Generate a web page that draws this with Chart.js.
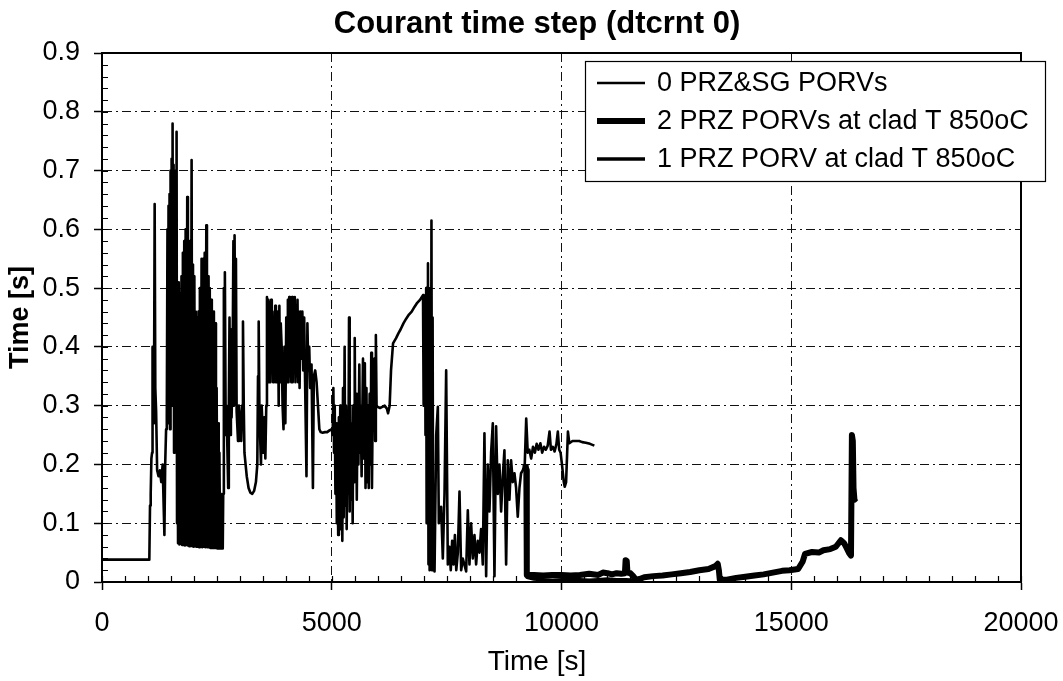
<!DOCTYPE html>
<html>
<head>
<meta charset="utf-8">
<title>Courant time step (dtcrnt 0)</title>
<script src="https://cdn.jsdelivr.net/npm/chart.js@4.4.0/dist/chart.umd.min.js"></script>
<style>
  html, body { margin: 0; padding: 0; background: #fff; }
  #wrap { width: 1063px; height: 681px; }
</style>
</head>
<body>
<div id="wrap"><canvas id="chart" width="1063" height="681"></canvas></div>
<script>
// ---- chart data ----------------------------------------------------------
const chartTitle = 'Courant time step (dtcrnt 0)';
const xAxisTitle = 'Time [s]';
const yAxisTitle = 'Time [s]';
const seriesLabels = ['0 PRZ&SG PORVs', '2 PRZ PORVs at clad T 850oC', '1 PRZ PORV at clad T 850oC'];
const xTickLabels = ['0', '5000', '10000', '15000', '20000'];
const yTickLabels = ['0', '0.1', '0.2', '0.3', '0.4', '0.5', '0.6', '0.7', '0.8', '0.9'];

// [time s, courant step s] – case with no PRZ or SG PORVs
const noPorvSeries = [
  [0,0.038],[1030,0.038],[1045,0.13],[1060,0.15],[1075,0.21],[1090,0.22],[1100,0.40],[1112,0.28],[1130,0.27],
  [1146,0.643],[1160,0.33],[1178,0.29],[1200,0.19],[1230,0.18],[1260,0.19],[1290,0.17],[1320,0.20],[1345,0.12],
  [1358,0.08],[1375,0.20],[1395,0.26],[1410,0.28],
  [1425,0.60],[1435,0.27],[1448,0.64],[1458,0.30],[1470,0.66],[1480,0.26],[1492,0.70],[1502,0.32],[1515,0.72],
  [1525,0.30],[1536,0.78],[1546,0.33],[1558,0.71],[1568,0.22],[1580,0.70],[1590,0.35],[1602,0.68],[1612,0.30],
  [1623,0.766],[1633,0.10],
  [1640,0.50],[1655,0.066],[1670,0.51],[1685,0.064],[1700,0.49],[1715,0.065],[1730,0.52],[1745,0.063],[1760,0.56],
  [1775,0.064],[1790,0.58],[1805,0.062],[1820,0.60],[1837,0.063],[1855,0.655],[1870,0.062],[1885,0.57],[1900,0.061],
  [1915,0.58],[1932,0.062],[1950,0.718],[1965,0.061],[1980,0.54],[1995,0.060],[2010,0.52],[2025,0.061],[2040,0.46],
  [2055,0.060],[2070,0.45],[2085,0.060],[2100,0.46],[2115,0.059],[2130,0.50],[2148,0.060],[2167,0.55],[2182,0.059],
  [2200,0.55],[2217,0.060],[2235,0.56],[2252,0.059],[2270,0.607],[2284,0.060],[2296,0.50],[2297,0.059],[2318,0.059],
  [2319,0.52],[2332,0.059],[2345,0.50],[2360,0.058],[2375,0.48],[2390,0.058],[2405,0.45],[2420,0.058],[2435,0.46],
  [2450,0.058],[2465,0.44],[2480,0.058],[2495,0.33],[2510,0.057],[2525,0.27],[2540,0.057],[2555,0.22],[2570,0.057],
  [2585,0.15],[2600,0.057],[2615,0.14],[2628,0.057],[2638,0.15],
  [2652,0.50],[2663,0.25],[2674,0.527],[2690,0.29],[2710,0.30],[2746,0.16],[2760,0.30],[2775,0.45],[2790,0.25],
  [2805,0.43],[2820,0.28],[2840,0.35],[2860,0.58],[2872,0.30],[2885,0.59],[2900,0.40],[2915,0.55],[2930,0.29],
  [2960,0.24],[2980,0.30],[3000,0.28],[3030,0.24],[3050,0.30],[3068,0.443],[3085,0.30],[3100,0.22],[3130,0.196],
  [3150,0.18],[3190,0.16],[3230,0.152],[3270,0.15],[3310,0.155],[3350,0.17],[3380,0.20],[3395,0.35],[3410,0.443],
  [3425,0.30],[3440,0.25],[3460,0.20],[3475,0.30],[3490,0.27],[3510,0.22],[3530,0.28],[3555,0.21],[3575,0.30],
  [3590,0.485],[3605,0.34],[3620,0.48],[3635,0.34],[3650,0.475],[3665,0.34],[3680,0.48],[3695,0.36],[3710,0.46],
  [3725,0.34],[3740,0.45],[3755,0.35],[3770,0.47],[3785,0.34],[3800,0.44],[3815,0.34],[3830,0.46],[3845,0.30],
  [3860,0.47],[3875,0.34],[3890,0.44],[3910,0.40],[3930,0.30],[3950,0.26],[3970,0.40],[3990,0.27],[4010,0.45],
  [4030,0.34],[4045,0.48],[4060,0.34],[4075,0.485],[4090,0.35],[4105,0.48],[4120,0.34],[4135,0.485],[4150,0.34],
  [4165,0.48],[4180,0.36],[4195,0.485],[4210,0.34],[4225,0.47],[4240,0.35],[4255,0.48],[4270,0.34],[4285,0.46],
  [4300,0.33],[4320,0.46],[4340,0.38],[4360,0.46],[4380,0.36],[4400,0.45],[4420,0.34],[4450,0.18],[4470,0.44],
  [4490,0.36],[4510,0.40],[4530,0.33],[4560,0.37],[4590,0.16],[4610,0.35],[4640,0.36],[4670,0.34],[4700,0.30],
  [4730,0.26],[4760,0.255],[4800,0.254],[4850,0.255],[4900,0.255],[4950,0.258],[5000,0.26],
  [5020,0.25],[5035,0.33],[5050,0.22],[5065,0.30],[5080,0.15],[5095,0.27],[5110,0.10],[5125,0.25],[5140,0.08],
  [5155,0.28],[5170,0.12],[5185,0.30],[5200,0.09],[5215,0.27],[5230,0.07],[5245,0.33],[5260,0.11],[5280,0.40],
  [5295,0.13],[5310,0.30],[5325,0.09],[5345,0.28],[5360,0.15],[5376,0.45],[5390,0.12],[5405,0.30],[5420,0.14],
  [5440,0.27],[5455,0.10],[5470,0.30],[5485,0.17],[5500,0.415],[5515,0.20],[5530,0.32],[5545,0.14],[5560,0.28],
  [5580,0.20],[5600,0.37],[5615,0.22],[5630,0.30],[5650,0.18],[5680,0.38],[5695,0.21],[5720,0.372],[5735,0.16],
  [5755,0.33],[5770,0.17],[5790,0.30],[5805,0.16],[5825,0.32],[5845,0.20],[5860,0.39],[5875,0.16],[5895,0.33],
  [5915,0.26],[5930,0.38],[5945,0.24],[5960,0.42],[5975,0.30],
  [6000,0.298],[6050,0.296],[6100,0.298],[6150,0.30],[6200,0.295],[6225,0.287],[6260,0.30],[6290,0.36],[6334,0.406],
  [6400,0.415],[6450,0.423],[6500,0.43],[6560,0.44],[6620,0.448],[6680,0.455],[6740,0.46],[6800,0.468],[6860,0.475],
  [6920,0.48],[6986,0.488],
  [7000,0.30],[7010,0.48],[7020,0.32],[7030,0.47],[7040,0.25],[7055,0.50],[7065,0.10],[7080,0.45],[7094,0.542],
  [7105,0.03],[7118,0.40],[7130,0.02],[7145,0.50],[7158,0.05],[7170,0.615],[7182,0.02],[7195,0.45],[7205,0.10],
  [7237,0.018],[7273,0.25],[7309,0.298],[7330,0.10],[7360,0.117],[7381,0.128],[7417,0.04],[7454,0.15],[7490,0.36],
  [7526,0.03],[7560,0.06],[7590,0.02],[7620,0.07],[7650,0.03],[7680,0.08],[7710,0.02],[7744,0.05],[7780,0.154],
  [7816,0.02],[7852,0.04],[7925,0.018],[7961,0.122],[7997,0.03],[8033,0.10],[8070,0.04],[8106,0.08],[8142,0.03],
  [8178,0.07],[8215,0.05],[8250,0.09],[8287,0.03],[8323,0.253],[8345,0.10],[8360,0.01],[8396,0.20],[8432,0.12],
  [8468,0.22],[8505,0.27],[8541,0.01],[8577,0.265],[8613,0.15],[8650,0.20],[8686,0.12],[8722,0.18],[8758,0.224],
  [8795,0.03],[8831,0.207],[8867,0.14],[8903,0.207],[8940,0.17],[8976,0.185],[9012,0.16],[9048,0.111],[9085,0.16],
  [9120,0.185],[9157,0.19],[9200,0.20],[9232,0.278],[9265,0.22],
  [9300,0.225],[9340,0.21],[9380,0.23],[9420,0.22],[9460,0.235],[9500,0.225],[9540,0.236],[9580,0.22],[9620,0.23],
  [9660,0.225],[9700,0.232],[9740,0.256],[9770,0.225],[9810,0.23],[9850,0.222],[9890,0.235],[9920,0.256],[9950,0.225],
  [9980,0.22],[10010,0.20],[10050,0.17],[10070,0.162],[10100,0.17],[10140,0.256],[10170,0.236],[10240,0.24],
  [10320,0.24],[10385,0.24],[10450,0.238],[10530,0.237],[10620,0.235],[10715,0.232]
];

// [time s, courant step s] – two PRZ PORVs opened at clad T 850 oC
const twoPorvSeries = [
  [9215,0.20],[9235,0.19],[9245,0.012],[9400,0.012],[9600,0.011],[9800,0.012],[10000,0.012],[10200,0.011],
  [10400,0.012],[10600,0.014],[10800,0.012],[10900,0.016],[11000,0.015],[11100,0.013],[11200,0.015],[11300,0.014],
  [11380,0.015],[11395,0.037],[11420,0.036],[11435,0.016],[11500,0.015],[11560,0.010],[11620,0.004],[11700,0.005],
  [11800,0.008],[12000,0.010],[12200,0.011],[12400,0.013],[12600,0.015],[12800,0.017],[13000,0.020],[13200,0.022],
  [13350,0.027],[13400,0.031],[13425,0.020],[13445,0.004],[13600,0.004],[13800,0.007],[14000,0.009],[14200,0.011],
  [14400,0.013],[14600,0.016],[14800,0.019],[14960,0.020],[15150,0.022],[15250,0.035],[15300,0.048],[15450,0.051],
  [15600,0.050],[15700,0.054],[15850,0.056],[15970,0.060],[16080,0.071],[16150,0.066],[16190,0.060],[16260,0.049],
  [16300,0.045],[16320,0.25],[16340,0.24],[16355,0.16],[16375,0.14],[16410,0.143]
];

// [time s, courant step s] – one PRZ PORV opened at clad T 850 oC
const onePorvSeries = [
  [9238,0.19],[9248,0.008],[9400,0.005],[9600,0.004],[9800,0.003],[10000,0.004],[10200,0.005],[10400,0.004],
  [10600,0.003],[10800,0.004],[11000,0.005],[11200,0.004],[11400,0.004],[11600,0.003]
];

// ---- drawing ---------------------------------------------------------------
const FONT = "'Liberation Sans', Arial, Helvetica, sans-serif";
const toPoints = rows => rows.map(([t, v]) => ({ x: t, y: v }));

// inner minor tick marks and the solid plot frame
const plotFrame = {
  id: 'plotFrame',
  afterDatasetsDraw(chart) {
    const { ctx, chartArea: a, scales: { x, y } } = chart;
    ctx.save();
    ctx.strokeStyle = '#000';
    ctx.lineWidth = 1.2;
    ctx.beginPath();
    for (let t = 0; t <= x.max; t += 500) {
      const px = Math.round(x.getPixelForValue(t)) + 0.5;
      ctx.moveTo(px, a.bottom);
      ctx.lineTo(px, a.bottom - 6);
    }
    for (let k = 0; k * 0.02 <= y.max + 1e-9; k++) {
      const py = Math.round(y.getPixelForValue(k * 0.02)) + 0.5;
      ctx.moveTo(a.left, py);
      ctx.lineTo(a.left + 6, py);
    }
    ctx.stroke();
    ctx.lineWidth = 2;
    ctx.strokeRect(a.left, a.top, a.right - a.left, a.bottom - a.top);
    ctx.restore();
  }
};

// boxed legend in the upper right of the plot
const boxLegend = {
  id: 'boxLegend',
  afterDraw(chart, args, o) {
    const { ctx } = chart;
    ctx.save();
    ctx.fillStyle = '#fff';
    ctx.fillRect(o.left, o.top, o.right - o.left, o.bottom - o.top);
    ctx.strokeStyle = '#000';
    ctx.lineWidth = 1.2;
    ctx.strokeRect(o.left + 0.5, o.top + 0.5, o.right - o.left, o.bottom - o.top);
    ctx.font = `${o.fontSize}px ${FONT}`;
    ctx.textAlign = 'left';
    ctx.textBaseline = 'middle';
    chart.data.datasets.forEach((ds, i) => {
      const yy = o.firstRow + i * o.rowGap;
      ctx.beginPath();
      ctx.lineWidth = ds.borderWidth;
      ctx.strokeStyle = ds.borderColor;
      ctx.moveTo(o.lineStart, yy);
      ctx.lineTo(o.lineEnd, yy);
      ctx.stroke();
      ctx.fillStyle = '#000';
      ctx.fillText(ds.label, o.textX, yy + 1);
    });
    ctx.restore();
  }
};

const gridStyle = {
  color: '#111',
  lineWidth: 1,
  drawTicks: true,
  tickLength: 8,
  tickColor: '#000',
  tickWidth: 1.5,
  tickBorderDash: []
};

new Chart(document.getElementById('chart'), {
  type: 'line',
  data: {
    datasets: [
      { label: seriesLabels[0], data: toPoints(noPorvSeries), borderColor: '#000', borderWidth: 2.6 },
      { label: seriesLabels[1], data: toPoints(twoPorvSeries), borderColor: '#000', borderWidth: 6 },
      { label: seriesLabels[2], data: toPoints(onePorvSeries), borderColor: '#000', borderWidth: 3.5 }
    ]
  },
  options: {
    responsive: false,
    animation: false,
    devicePixelRatio: 1,
    elements: {
      point: { radius: 0, hoverRadius: 0 },
      line: { tension: 0, fill: false, borderJoinStyle: 'round', borderCapStyle: 'butt' }
    },
    layout: { padding: { left: 11, right: 0, top: 0, bottom: 0 } },
    plugins: {
      legend: { display: false },
      tooltip: { enabled: false },
      title: {
        display: true, text: chartTitle, color: '#000',
        font: { family: FONT, size: 31, weight: 'bold', lineHeight: '37px' },
        padding: { top: 6, bottom: 10 }
      },
      subtitle: {
        display: true, position: 'bottom', text: xAxisTitle, color: '#000',
        font: { family: FONT, size: 28, weight: 'normal', lineHeight: '34px' },
        padding: { top: 0, bottom: 2 }
      },
      boxLegend: {
        left: 585, top: 61, right: 1045, bottom: 181,
        firstRow: 83, rowGap: 38, lineStart: 597, lineEnd: 645, textX: 657, fontSize: 27
      }
    },
    scales: {
      x: {
        type: 'linear', min: 0, max: 20000,
        afterFit(s) { s.height = 63; s.paddingRight = 42; },
        ticks: {
          stepSize: 5000, autoSkip: false, maxRotation: 0, padding: 17, color: '#000',
          font: { family: FONT, size: 27 },
          callback: v => xTickLabels[Math.round(v / 5000)]
        },
        grid: gridStyle,
        border: { display: true, color: '#000', width: 2, dash: [9, 4, 2, 4] }
      },
      y: {
        type: 'linear', min: 0, max: 0.9,
        afterFit(s) { s.width = 91; },
        ticks: {
          stepSize: 0.1, autoSkip: false, padding: 14, color: '#000',
          font: { family: FONT, size: 27 },
          callback: v => yTickLabels[Math.round(v * 10)]
        },
        title: {
          display: true, text: yAxisTitle, color: '#000',
          font: { family: FONT, size: 27, weight: 'bold' },
          padding: { top: -7, bottom: 0 }
        },
        grid: gridStyle,
        border: { display: true, color: '#000', width: 2, dash: [9, 4, 2, 4] }
      }
    }
  },
  plugins: [plotFrame, boxLegend]
});
</script>
</body>
</html>
